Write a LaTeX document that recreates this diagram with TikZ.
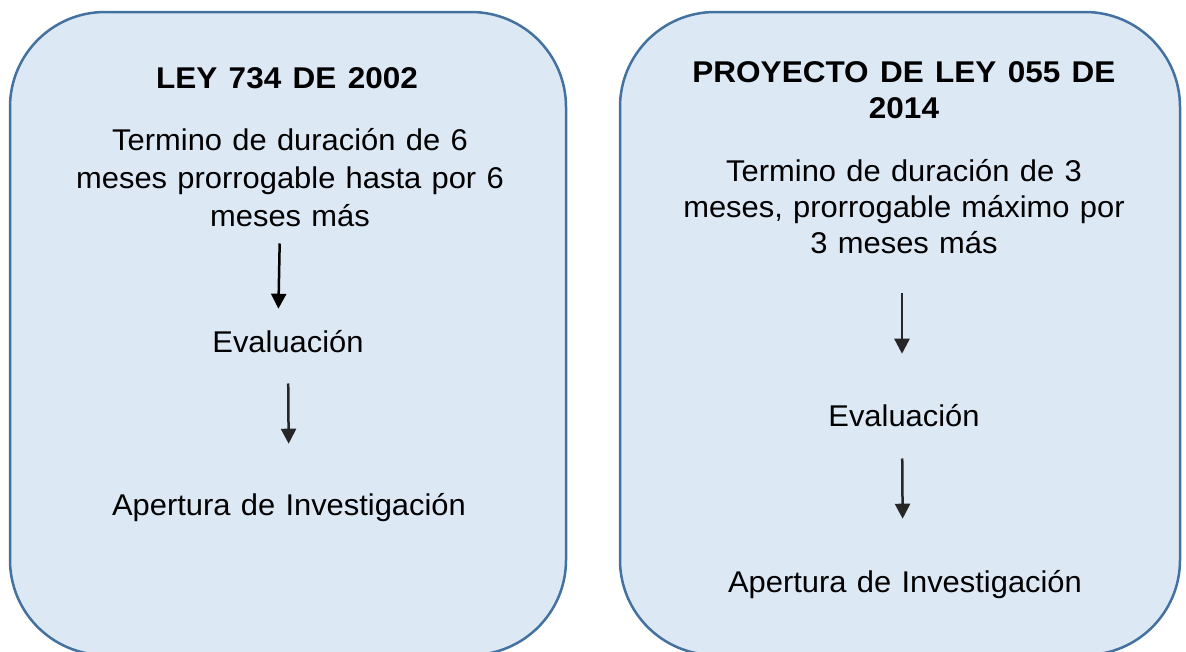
\documentclass[tikz,border=0pt]{standalone}
\usepackage{fontspec}
\setmainfont{Liberation Sans}[FakeStretch=1.03,WordSpace=1.2,BoldFeatures={FakeStretch=1.05,WordSpace=1.3}]
\usetikzlibrary{arrows.meta}
\definecolor{cajafondo}{RGB}{221,232,245}
\definecolor{cajaborde}{RGB}{68,114,160}
\begin{document}
\begin{tikzpicture}[x=1pt,y=-1pt,
  every node/.style={font=\fontsize{30}{37}\selectfont,inner sep=0pt,align=center,anchor=base},
  caja/.style={draw=cajaborde,fill=cajafondo,line width=2.5pt,rounded corners=95pt},
  titulo/.style={font=\fontsize{30}{36}\selectfont\bfseries},
  flecha/.style={-{Triangle[width=15pt,length=15pt]},line width=2.5pt}]
  \useasboundingbox[fill=white] (0,0) rectangle (1186,651);
  \draw[caja] (10,12) rectangle (566,655);
  \draw[caja] (620,12) rectangle (1180,655);
  % ley 734
  \node[titulo] (tit1) at (287,88) {LEY 734 DE 2002};
  \node[font=\fontsize{30}{38}\selectfont] (plazo1) at (290,226) {Termino de duración de 6\\meses prorrogable hasta por 6\\meses más};
  \node (eval1) at (288,352) {Evaluación};
  \node (aper1) at (289,515) {Apertura de Investigación};
  \draw[flecha,shorten <=17pt,shorten >=21pt] ([xshift=-10pt]plazo1.south) -- ([xshift=-10pt]eval1.north);
  \draw[flecha,black!85,shorten <=31pt,shorten >=49pt] (eval1.south) -- (aper1.north);
  % proyecto 055
  \node[titulo] (tit2) at (904,118) {PROYECTO DE LEY 055 DE\\2014};
  \node[font=\fontsize{30}{36}\selectfont] (plazo2) at (904,253) {Termino de duración de 3\\meses, prorrogable máximo por\\3 meses más};
  \node (eval2) at (904,426) {Evaluación};
  \node (aper2) at (905,592) {Apertura de Investigación};
  \draw[flecha,black!85,shorten <=40pt,shorten >=50pt] ([xshift=-2pt]plazo2.south) -- ([xshift=-2pt]eval2.north);
  \draw[flecha,black!85,shorten <=32pt,shorten >=51pt] ([xshift=-2pt]eval2.south) -- ([xshift=-2pt]aper2.north);
\end{tikzpicture}
\end{document}
